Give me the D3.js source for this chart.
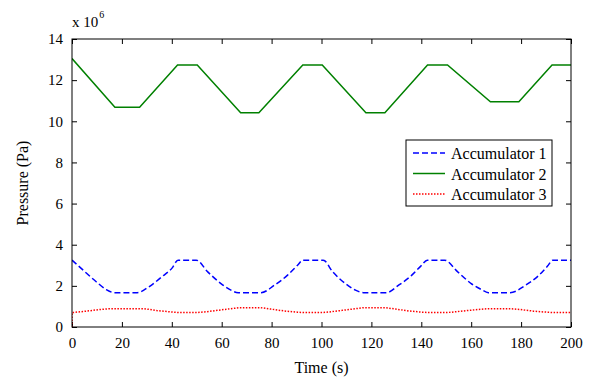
<!DOCTYPE html>
<html>
<head>
<meta charset="utf-8">
<script src="https://cdn.jsdelivr.net/npm/d3@7"></script>
<style>
  html, body { margin: 0; padding: 0; background: #fff; }
  svg, svg text { font-family: "Liberation Serif", "Times New Roman", serif; fill: #000; }
</style>
</head>
<body>
<svg id="chart" width="595" height="383" font-family="Liberation Serif, serif"></svg>
<script>
// ---- data (pressure in units of 1e6 Pa) ----
const xTicks = [0, 20, 40, 60, 80, 100, 120, 140, 160, 180, 200];
const yTicks = [0, 2, 4, 6, 8, 10, 12, 14];
const seriesNames = ["Accumulator 1", "Accumulator 2", "Accumulator 3"];

const acc1Time = [0, 4.5, 9.7, 13.7, 17.0, 26.1, 30.8, 36.0, 40.0, 42.5, 49.8, 54.4, 59.7, 63.7, 66.6, 75.8, 81.1, 86.4, 90.4, 92.5, 100.7, 104.5, 109.6, 113.6, 116.8, 126.0, 130.9, 136.2, 139.8, 142.4, 149.3, 154.6, 160.0, 164.1, 166.9, 175.6, 181.8, 187.2, 190.6, 192.7, 200];
const acc1Value = [3.25, 2.76, 2.20, 1.82, 1.67, 1.67, 1.95, 2.44, 2.85, 3.25, 3.25, 2.68, 2.11, 1.79, 1.67, 1.67, 2.03, 2.52, 3.00, 3.25, 3.25, 2.68, 2.11, 1.79, 1.67, 1.67, 2.03, 2.52, 2.96, 3.25, 3.25, 2.68, 2.11, 1.82, 1.67, 1.67, 2.03, 2.52, 2.96, 3.25, 3.25];

const acc2Time = [0, 17.2, 27.1, 42.3, 50.2, 67.6, 74.9, 92.5, 100.3, 117.8, 125.4, 142.5, 150.5, 167.7, 179.1, 192.4, 200];
const acc2Value = [13.05, 10.68, 10.68, 12.74, 12.74, 10.42, 10.42, 12.74, 12.74, 10.42, 10.42, 12.74, 12.74, 10.95, 10.95, 12.74, 12.74];

const acc3Time = [0, 0, 5, 10.5, 15, 29, 34, 40, 43, 50, 53, 58.4, 63.7, 67, 75.7, 79.7, 85, 90.4, 93, 100, 103, 108.4, 113.7, 117, 125.7, 129.7, 135, 140.4, 143, 150, 153, 158.4, 163.7, 167, 175.7, 179.7, 185, 190.4, 193, 200];
const acc3Value = [0, 0.70, 0.76, 0.84, 0.89, 0.89, 0.80, 0.73, 0.70, 0.70, 0.73, 0.81, 0.89, 0.94, 0.94, 0.87, 0.78, 0.72, 0.70, 0.70, 0.73, 0.81, 0.89, 0.94, 0.94, 0.87, 0.78, 0.72, 0.70, 0.70, 0.73, 0.80, 0.86, 0.89, 0.89, 0.85, 0.77, 0.72, 0.70, 0.70];

// ---- layout ----
const svg = d3.select("#chart");
const L = 72, R = 571, T = 39, B = 327;
const x = d3.scaleLinear().domain([0, 200]).range([L, R]);
const y = d3.scaleLinear().domain([0, 14]).range([B, T]);

const zip = (ts, vs) => ts.map((t, i) => [t, vs[i]]);
const series = [
  { name: seriesNames[0], data: zip(acc1Time, acc1Value), color: "#0000ff", dash: "6,3", curve: d3.curveMonotoneX },
  { name: seriesNames[1], data: zip(acc2Time, acc2Value), color: "#008000", dash: null, curve: d3.curveLinear },
  { name: seriesNames[2], data: zip(acc3Time, acc3Value), color: "#ff0000", dash: "1.5,1.5", curve: d3.curveLinear }
];

// axes
const fs = 15;
const gx = svg.append("g").attr("transform", `translate(0,${B})`)
  .call(d3.axisBottom(x).tickValues(xTicks).tickSizeInner(-5).tickSizeOuter(0).tickPadding(10));
const gy = svg.append("g").attr("transform", `translate(${L},0)`)
  .call(d3.axisLeft(y).tickValues(yTicks).tickSizeInner(-5).tickSizeOuter(0).tickPadding(9));
const gt = svg.append("g").attr("transform", `translate(0,${T})`)
  .call(d3.axisTop(x).tickValues(xTicks).tickSizeInner(-5).tickSizeOuter(0).tickFormat(""));
const gr = svg.append("g").attr("transform", `translate(${R},0)`)
  .call(d3.axisRight(y).tickValues(yTicks).tickSizeInner(-5).tickSizeOuter(0).tickFormat(""));
[gx, gy, gt, gr].forEach(g => {
  g.attr("font-family", "Liberation Serif, serif").attr("font-size", fs);
  g.select(".domain").remove();
  g.selectAll(".tick line").attr("stroke", "#000");
  g.selectAll("text").attr("font-size", fs);
});

// lines (clip to plot)
svg.append("clipPath").attr("id", "clip").append("rect")
  .attr("x", L).attr("y", T).attr("width", R - L).attr("height", B - T);

series.forEach(s => {
  const line = d3.line().x(d => x(d[0])).y(d => y(d[1])).curve(s.curve);
  svg.append("path").attr("d", line(s.data))
    .attr("fill", "none").attr("stroke", s.color).attr("stroke-width", 1.5)
    .attr("stroke-dasharray", s.dash).attr("clip-path", "url(#clip)");
});

// frame
svg.append("rect").attr("x", L).attr("y", T).attr("width", R - L).attr("height", B - T)
  .attr("fill", "none").attr("stroke", "#000").attr("stroke-width", 1);

// exponent label
const ex = svg.append("text").attr("x", 72).attr("y", 27).attr("font-size", 15);
ex.append("tspan").text("x 10");
ex.append("tspan").attr("font-size", 10).attr("dy", -9).attr("dx", 1).text("6");

// axis titles
svg.append("text").attr("x", (L + R) / 2).attr("y", 373).attr("text-anchor", "middle")
  .attr("font-size", 16).text("Time (s)");
svg.append("text").attr("transform", `translate(28,${(T + B) / 2}) rotate(-90)`)
  .attr("text-anchor", "middle").attr("font-size", 16).text("Pressure (Pa)");

// legend
const lg = svg.append("g");
lg.append("rect").attr("x", 406).attr("y", 140).attr("width", 146).attr("height", 66)
  .attr("fill", "#fff").attr("stroke", "#000").attr("stroke-width", 1);
series.forEach((s, i) => {
  const cy = 153 + i * 20.5;
  lg.append("line").attr("x1", 413).attr("x2", 445).attr("y1", cy).attr("y2", cy)
    .attr("stroke", s.color).attr("stroke-width", 1.5).attr("stroke-dasharray", s.dash);
  lg.append("text").attr("x", 451).attr("y", cy + 6).attr("font-size", 16).text(s.name);
});
</script>
</body>
</html>
